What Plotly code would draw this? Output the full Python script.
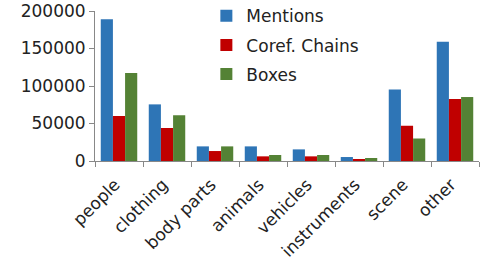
import plotly.graph_objects as go

categories = ["people", "clothing", "body parts", "animals", "vehicles", "instruments", "scene", "other"]
mentions = [189000, 75500, 19500, 19500, 15500, 5300, 95500, 159000]
coref_chains = [60000, 44000, 13300, 6200, 6200, 2700, 47000, 82700]
boxes = [117500, 61000, 19500, 8000, 8000, 4000, 30000, 85300]
y_ticks = [0, 50000, 100000, 150000, 200000]

FONT = "DejaVu Sans"
fig = go.Figure()
series = [("Mentions", mentions, "#2E75B6"), ("Coref. Chains", coref_chains, "#C00000"), ("Boxes", boxes, "#548235")]
for name, vals, col in series:
    fig.add_trace(go.Bar(x=categories, y=vals, name=name, marker=dict(color=col, line=dict(width=0)),
                         legendgroup=name))

fig.update_layout(
    width=480, height=262,
    margin=dict(l=95, r=1, t=11, b=101, autoexpand=False),
    paper_bgcolor="white", plot_bgcolor="white",
    barmode="group", bargap=0.24, bargroupgap=0,
    font=dict(family=FONT, size=17, color="#222"),
    showlegend=True,
    legend=dict(x=0.29, y=1.085, xanchor="left", yanchor="top", bgcolor="rgba(0,0,0,0)",
                font=dict(size=17), tracegroupgap=4, traceorder="grouped"),
    xaxis=dict(showline=True, linecolor="#888", linewidth=1, ticks="outside", tickson="boundaries",
               ticklen=5, tickcolor="#888", tickangle=-45, showgrid=False, automargin=False,
               ticklabelstandoff=6, ticklabelshift=-4,
               tickfont=dict(size=17)),
    yaxis=dict(range=[0, 200000], tickvals=y_ticks, ticktext=[str(v) for v in y_ticks],
               showline=True, linecolor="#888", linewidth=1, ticks="outside", ticklen=5,
               tickcolor="#888", showgrid=False, zeroline=False, automargin=False,
               tickfont=dict(size=17)),
)
fig.write_html("out.html", config={"displayModeBar": False},
               post_script="document.body.style.margin='0';")
